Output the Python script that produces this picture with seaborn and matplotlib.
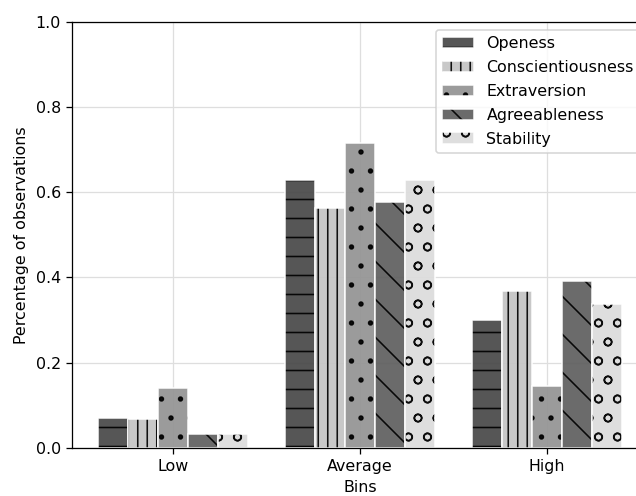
import matplotlib
matplotlib.use("Agg")
import matplotlib.pyplot as plt
from matplotlib.colors import to_rgba
import seaborn as sns
import pandas as pd

bins = ["Low", "Average", "High"]
traits = ["Openess", "Conscientiousness", "Extraversion", "Agreeableness", "Stability"]
openess = [0.070, 0.629, 0.300]
conscientiousness = [0.068, 0.563, 0.369]
extraversion = [0.141, 0.716, 0.146]
agreeableness = [0.033, 0.577, 0.392]
stability = [0.033, 0.629, 0.338]
yticks = [0.0, 0.2, 0.4, 0.6, 0.8, 1.0]

colors = ["#474747", "#c4c4c4", "#939393", "#5e5e5e", "#dcdcdc"]
hatches = ["-", "||", ".", "\\", "o"]

series = [openess, conscientiousness, extraversion, agreeableness, stability]
rows = []
for t, vals in zip(traits, series):
    for b, v in zip(bins, vals):
        rows.append({"Bins": b, "Trait": t, "value": v})
df = pd.DataFrame(rows)

DPI = 114
fig = plt.figure(figsize=(636 / DPI, 496 / DPI), dpi=DPI)
ax = fig.add_axes([0.113, 0.097, 0.906, 0.859])

sns.barplot(data=df, x="Bins", y="value", hue="Trait", order=bins, hue_order=traits,
            palette=dict(zip(traits, colors)), saturation=1, errorbar=None,
            edgecolor="white", linewidth=1, width=0.8, alpha=0.92, legend=False, ax=ax)

black = to_rgba("black", 0.92)
for cont, h in zip(ax.containers, hatches):
    for p in cont.patches:
        p.set_hatch(h)
        if hasattr(p, "set_hatchcolor"):
            p.set_hatchcolor(black)
        else:
            p._hatch_color = black

ax.set_axisbelow(True)
ax.grid(True, color="#dedede", linewidth=0.8)
ax.set_xlim(-0.54, 2.54)
ax.set_ylim(0, 1.0)
ax.set_yticks(yticks)
ax.set_xlabel("Bins")
ax.set_ylabel("Percentage of observations")
leg = ax.legend(ax.containers, traits, loc="upper right", labelspacing=0.56)
for hnd, h in zip(leg.legend_handles, hatches):
    hnd.set_hatch(h)
    if hasattr(hnd, "set_hatchcolor"):
        hnd.set_hatchcolor(black)
    else:
        hnd._hatch_color = black

fig.savefig("out.png", dpi=DPI)
